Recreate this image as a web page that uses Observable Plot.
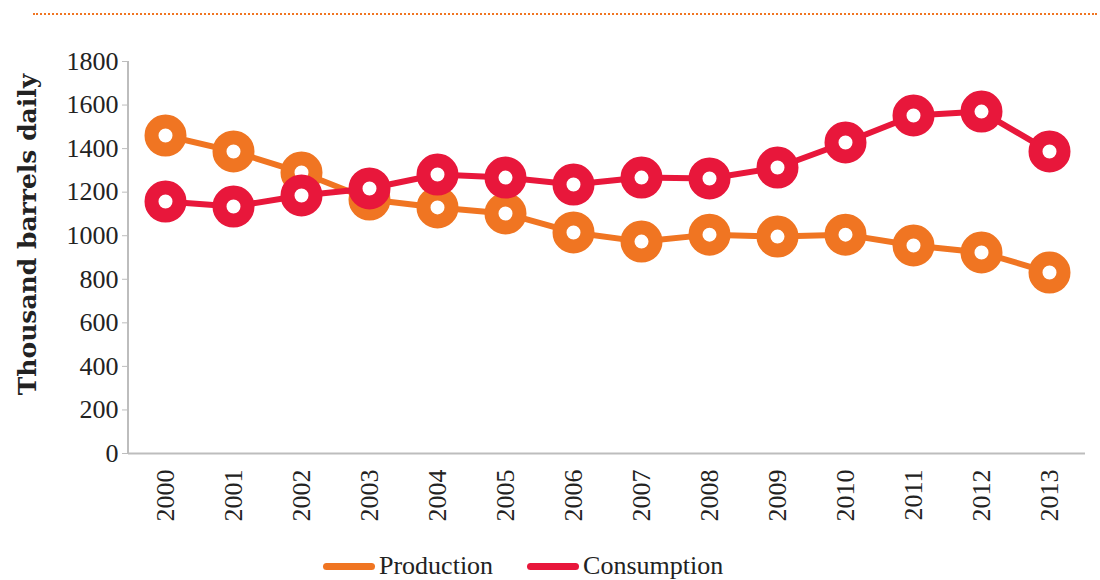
<!DOCTYPE html>
<html>
<head>
<meta charset="utf-8">
<script src="https://cdn.jsdelivr.net/npm/d3@7"></script>
<script src="https://cdn.jsdelivr.net/npm/@observablehq/plot@0.6"></script>
<style>
  html, body { margin: 0; padding: 0; background: #fff; }
  #wrap { position: relative; width: 1100px; height: 580px; overflow: hidden; }
  #rule { position: absolute; left: 33px; width: 1064px; top: 13px; border-top: 2px dotted #f07522; }
  #chart { position: absolute; left: 0; top: 0; }
  #legend { position: absolute; left: 323px; top: 551px; height: 30px; line-height: 30px; display: flex; align-items: center;
            font-family: "Liberation Serif", serif; font-size: 26px; color: #222; }
  .item { display: flex; align-items: center; margin-right: 34px; }
  .swatch { width: 52px; height: 7px; border-radius: 4px; margin-right: 4px; }
</style>
</head>
<body>
<div id="wrap">
  <div id="rule"></div>
  <div id="chart"></div>
  <div id="legend"></div>
</div>
<script>
// Oil production and consumption, thousand barrels per day
const years = ["2000","2001","2002","2003","2004","2005","2006","2007","2008","2009","2010","2011","2012","2013"];
const production  = [1460, 1387, 1290, 1166, 1130, 1102, 1015, 973, 1005, 996, 1005, 955, 923, 831];
const consumption = [1157, 1134, 1185, 1217, 1281, 1267, 1235, 1267, 1263, 1313, 1428, 1552, 1570, 1387];
const seriesNames = ["Production", "Consumption"];
const seriesColors = ["#f07522", "#e8173b"];
const yTicks = [0, 200, 400, 600, 800, 1000, 1200, 1400, 1600, 1800];
const yTitle = "Thousand barrels daily";

const rows = [
  ...years.map((y, i) => ({year: y, value: production[i], series: seriesNames[0]})),
  ...years.map((y, i) => ({year: y, value: consumption[i], series: seriesNames[1]}))
];
const bySeries = name => rows.filter(d => d.series === name);

// vertical axis line along the left edge of the frame
function leftAxisLine(index, scales, values, dim) {
  const line = document.createElementNS("http://www.w3.org/2000/svg", "line");
  line.setAttribute("x1", dim.marginLeft);
  line.setAttribute("x2", dim.marginLeft);
  line.setAttribute("y1", scales.y(yTicks[yTicks.length - 1]));
  line.setAttribute("y2", scales.y(0));
  line.setAttribute("stroke", "#bdbdbd");
  line.setAttribute("stroke-width", 2);
  return line;
}

const plot = Plot.plot({
  width: 1100,
  height: 535,
  marginTop: 61,
  marginBottom: 82,
  marginLeft: 128,
  marginRight: 15,
  style: {fontFamily: "Liberation Serif, serif", fontSize: "26px", color: "#222", background: "transparent"},
  x: {type: "point", domain: years, padding: 0.5, label: null},
  y: {domain: [0, 1800], label: null},
  color: {domain: seriesNames, range: seriesColors},
  marks: [
    Plot.axisX({tickSize: 0, tickPadding: 16, tickRotate: -90, fontSize: 26, label: null}),
    Plot.axisY({ticks: yTicks, tickFormat: d => String(d), tickSize: 6, tickPadding: 4, stroke: "#bdbdbd", fontSize: 26, label: null}),
    leftAxisLine,
    Plot.ruleY([0], {stroke: "#bdbdbd", strokeWidth: 2}),
    ...seriesNames.flatMap(name => [
      Plot.line(bySeries(name), {x: "year", y: "value", stroke: "series", strokeWidth: 6}),
      Plot.dot(bySeries(name), {x: "year", y: "value", r: 14, stroke: "series", strokeWidth: 14, fill: "white"})
    ]),
    Plot.text([yTitle], {
      frameAnchor: "left", dx: -101, dy: -23, rotate: -90, textAnchor: "middle", text: d => d,
      fontFamily: "DejaVu Serif, serif", fontWeight: "bold", fontSize: 25, fill: "#222"
    })
  ]
});
document.getElementById("chart").appendChild(plot);

const legend = document.getElementById("legend");
seriesNames.forEach((name, i) => {
  const item = document.createElement("div");
  item.className = "item";
  const sw = document.createElement("div");
  sw.className = "swatch";
  sw.style.background = seriesColors[i];
  const label = document.createElement("span");
  label.textContent = name;
  item.appendChild(sw);
  item.appendChild(label);
  legend.appendChild(item);
});
</script>
</body>
</html>
